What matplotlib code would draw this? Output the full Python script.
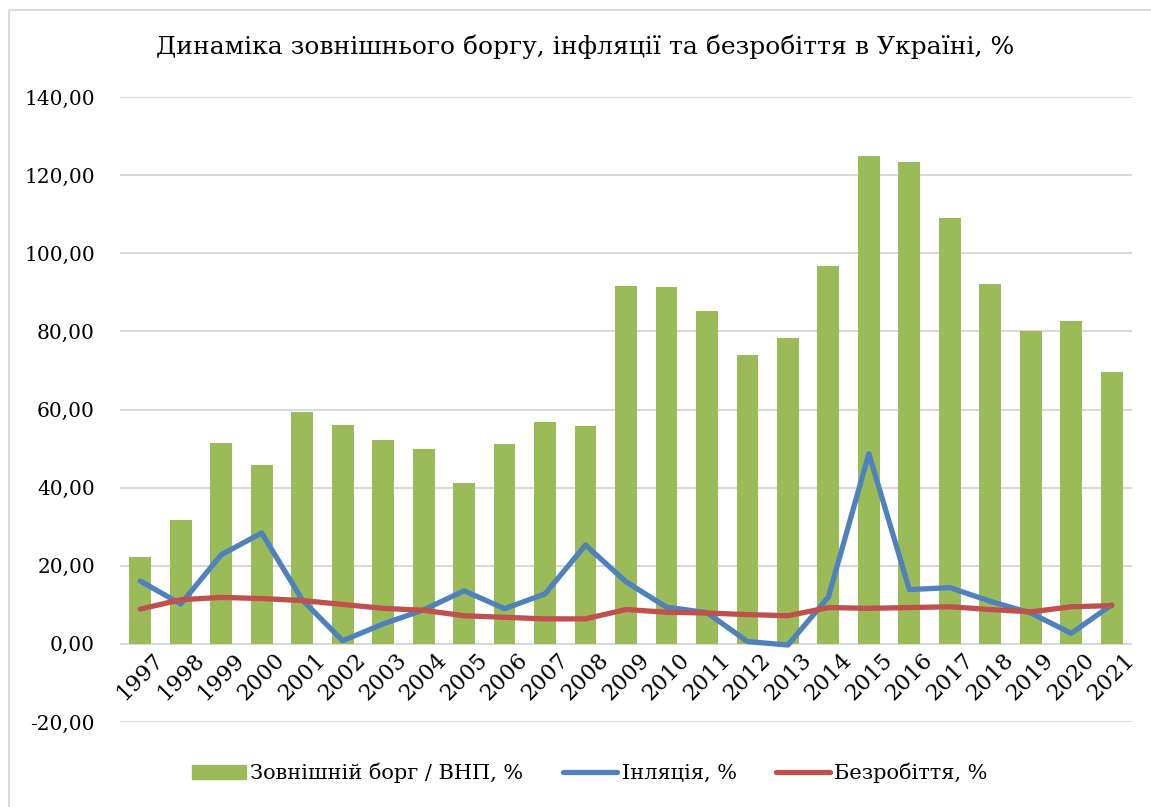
#!/usr/bin/env python3
# -*- coding: utf-8 -*-
# Динаміка зовнішнього боргу, інфляції та безробіття в Україні

import numpy as np
import matplotlib
matplotlib.use("Agg")
import matplotlib.pyplot as plt
from matplotlib.lines import Line2D
from matplotlib.patches import Patch

years = [str(y) for y in range(1997, 2022)]

# зовнішній борг / ВНП, %
debt = [22.3, 31.7, 51.4, 45.8, 59.4, 56.1, 52.2, 49.9, 41.2, 51.2, 56.8, 55.8,
        91.6, 91.4, 85.2, 74.0, 78.3, 96.7, 124.9, 123.4, 109.0, 92.1, 80.1, 82.7, 69.6]

# інфляція, %
inflation = [16.1, 10.2, 22.8, 28.4, 11.3, 0.8, 5.1, 8.7, 13.6, 9.0, 12.8, 25.3,
             15.9, 9.4, 8.0, 0.6, -0.3, 12.0, 48.7, 13.9, 14.4, 10.9, 7.9, 2.7, 10.0]

# безробіття, %
unemployment = [8.9, 11.3, 11.9, 11.6, 11.1, 10.1, 9.1, 8.6, 7.2, 6.8, 6.4, 6.4,
                8.8, 8.1, 7.9, 7.5, 7.2, 9.3, 9.1, 9.3, 9.5, 8.8, 8.2, 9.5, 9.8]

yticks = np.arange(-20, 141, 20)

green = "#9BBB59"
blue = "#4F81BD"
red = "#C0504D"

plt.rcParams['font.family'] = ['DejaVu Serif']

fig = plt.figure(figsize=(11.51, 8.07), dpi=100)
W, H = 1151, 807

# рамка області діаграми (видно лише верх і ліво)
fig.add_artist(Line2D([9 / W, 9 / W], [0, 1 - 10 / H], transform=fig.transFigure,
                      color="#D9D9D9", linewidth=1.5, solid_capstyle="butt"))
fig.add_artist(Line2D([9 / W, 1], [1 - 10 / H, 1 - 10 / H], transform=fig.transFigure,
                      color="#D9D9D9", linewidth=1.5, solid_capstyle="butt"))

ax = fig.add_axes([120 / W, 1 - 722 / H, (1132 - 120) / W, (722 - 97) / H])

x = np.arange(len(years))
ax.bar(x, debt, width=0.54, color=green, zorder=2)
ax.plot(x, inflation, color=blue, linewidth=3.8, solid_joinstyle="round",
        solid_capstyle="round", zorder=3)
ax.plot(x, unemployment, color=red, linewidth=3.8, solid_joinstyle="round",
        solid_capstyle="round", zorder=4)

ax.set_xlim(-0.5, len(years) - 0.5)
ax.set_ylim(-20, 140)
ax.set_yticks(yticks)
ax.set_yticklabels([f"{v:.2f}".replace(".", ",") for v in yticks], fontsize=14.5)
ax.yaxis.grid(True, color="#D9D9D9", linewidth=1.5, zorder=0)
ax.set_axisbelow(True)
ax.tick_params(axis="y", length=0, pad=18)
ax.set_xticks([])
for s in ax.spines.values():
    s.set_visible(False)

# підписи років під лінією нуля
for xi, lab in zip(x, years):
    ax.text(xi + 0.3, -1.2, lab, rotation=45, ha="right", va="top",
            fontsize=16, rotation_mode="anchor")

fig.text(585 / W, 1 - 47 / H, "Динаміка зовнішнього боргу, інфляції та безробіття в Україні, %",
         ha="center", va="center", fontsize=18)

handles = [Patch(color=green, label="Зовнішній борг / ВНП, %"),
           Line2D([], [], color=blue, linewidth=3.8, solid_capstyle="round", label="Інляція, %"),
           Line2D([], [], color=red, linewidth=3.8, solid_capstyle="round", label="Безробіття, %")]
fig.legend(handles=handles, loc="center", bbox_to_anchor=(590 / W, 1 - 773 / H),
           ncol=3, frameon=False, fontsize=15, handlelength=2.6,
           handletextpad=0.2, columnspacing=1.9)

fig.savefig("out.png", dpi=100)
